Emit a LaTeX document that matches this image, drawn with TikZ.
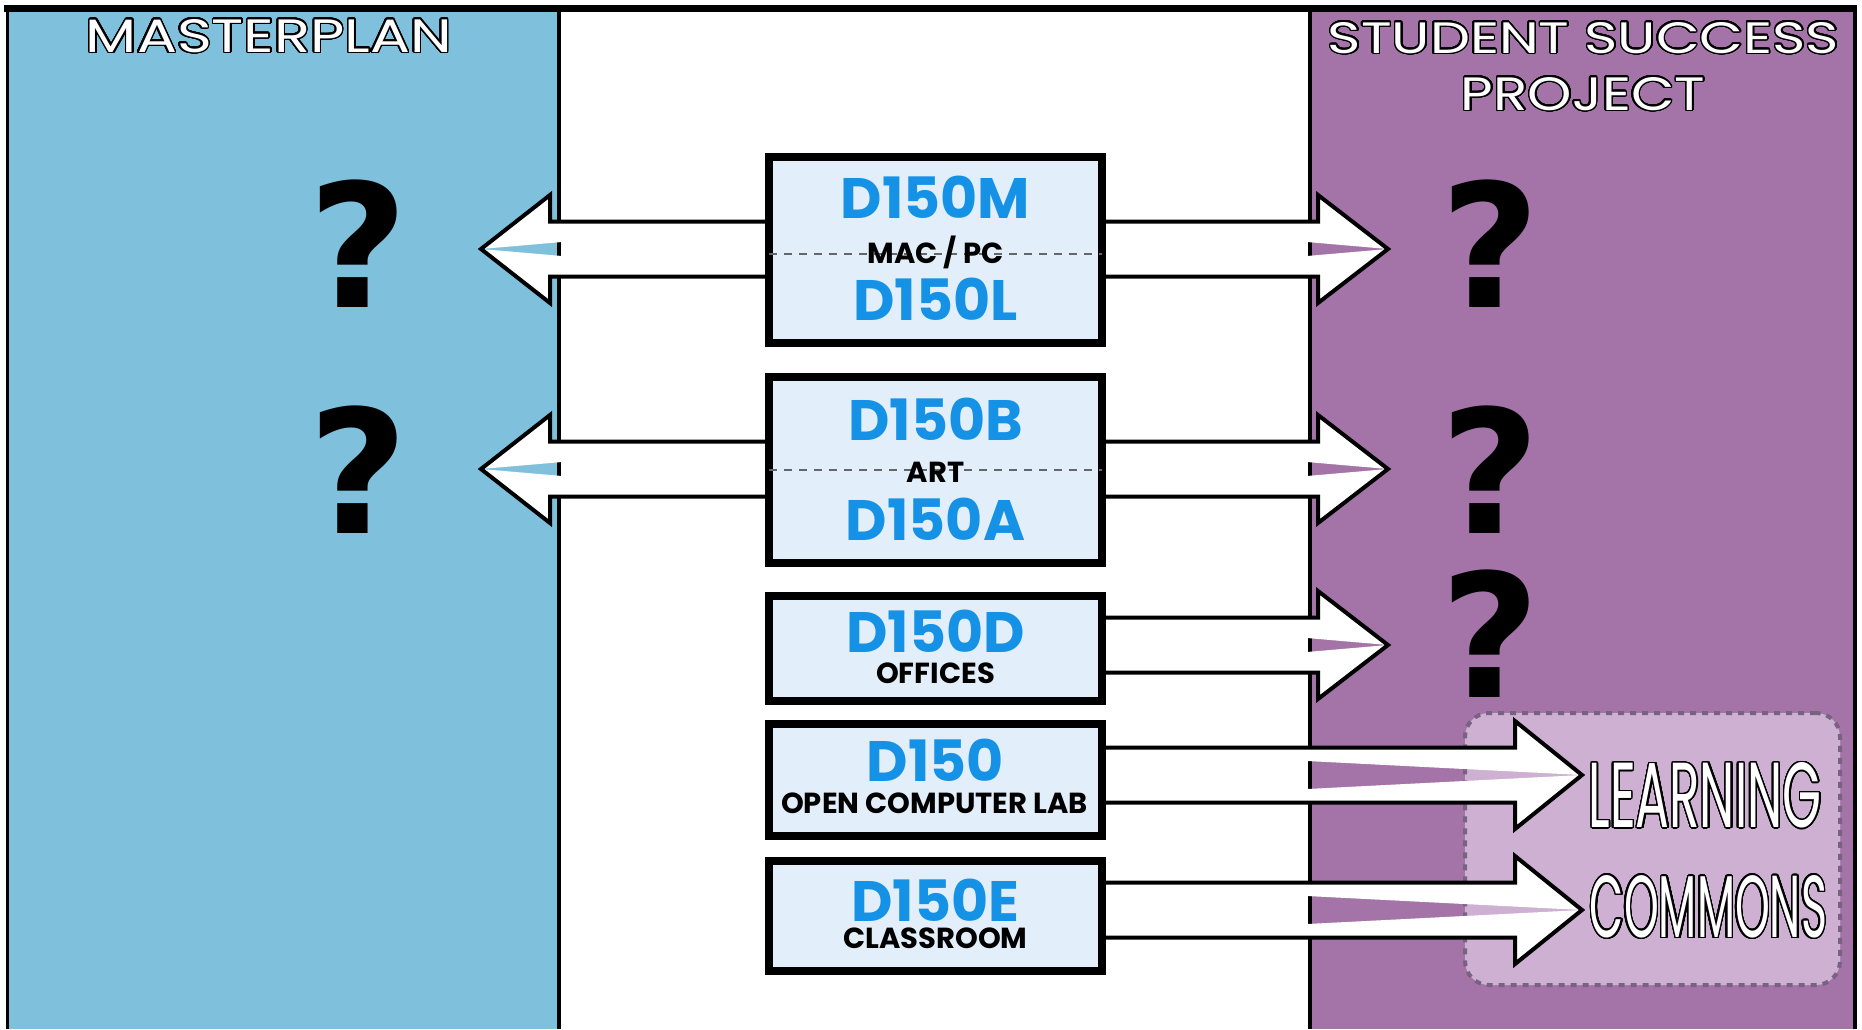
\documentclass[tikz,border=0pt]{standalone}
\usepackage{fontspec}
\setmainfont{Poppins}
\newfontfamily\qfont{DejaVu Sans}
\usepackage{contour}
\contourlength{1.5pt}
\contournumber{32}
\usetikzlibrary{positioning}
\definecolor{planblue}{HTML}{7FC1DD}
\definecolor{projpurple}{HTML}{A474A9}
\definecolor{commonsfill}{HTML}{CDB0D2}
\definecolor{commonsline}{HTML}{776380}
\definecolor{roomfill}{HTML}{E2EEF9}
\definecolor{roomblue}{HTML}{1592E6}

\tikzset{
  room/.style={draw=black, line width=8pt, fill=roomfill, minimum width=333pt, inner sep=0pt},
  roomid/.style={text=roomblue, font=\bfseries\fontsize{57}{57}\selectfont, inner sep=0pt, anchor=base},
  roomuse/.style={font=\bfseries\fontsize{29}{29}\selectfont, inner sep=0pt, anchor=base},
  qmark/.style={font=\qfont\bfseries\fontsize{172}{172}\selectfont, inner sep=0pt, anchor=base},
  halfline/.style={draw=black!60, line width=2pt, dash pattern=on 8pt off 7pt},
  outlined/.style={text=white, inner sep=0pt},
}

% white block arrow with a slit cut out near the tip
% #1 y, #2 tail x, #3 head base x, #4 tip x, #5 slit start x, #6 slit half height
\newcommand{\blockarrow}[6]{%
  \fill[white,even odd rule] (#2,#1-27.5) -- (#3,#1-27.5) -- (#3,#1-54) -- (#4,#1)
    -- (#3,#1+54) -- (#3,#1+27.5) -- (#2,#1+27.5) -- cycle
    (#5,#1-#6) -- (#4,#1) -- (#5,#1+#6) -- cycle;
  \draw[line width=4pt] (#2,#1-27.5) -- (#3,#1-27.5) -- (#3,#1-54) -- (#4,#1)
    -- (#3,#1+54) -- (#3,#1+27.5) -- (#2,#1+27.5) -- cycle;
}

\begin{document}
\begin{tikzpicture}[x=1pt,y=-1pt]
	\useasboundingbox (0,0) rectangle (1862,1029);

	% the two side panels
	\fill [planblue] (7,9) rectangle (559,1029);
	\fill [projpurple] (1310,9) rectangle (1855,1029);
	\draw [line width=4pt] (559,9) -- (559,1029);
	\draw [line width=4pt] (1310,9) -- (1310,1029);
	\draw [line width=3pt] (7.5,8) -- (7.5,1029);
	\draw [line width=4pt] (1855,8) -- (1855,1029);
	\draw [line width=7pt] (4,8.5) -- (1857,8.5);

	\node [outlined] (plan) at (269,36.5) {\contour{black}{\resizebox{366pt}{33pt}{MASTERPLAN}}};
	\node [outlined] (ssp1) at (1583.5,38.5) {\contour{black}{\resizebox{511pt}{31pt}{STUDENT SUCCESS}}};
	\node [outlined] (ssp2) at (1583,94.5) {\contour{black}{\resizebox{244pt}{33pt}{PROJECT}}};

	% learning commons area
	\node [draw=commonsline, fill=commonsfill, line width=4pt, dash pattern=on 6pt off 6pt,
		rounded corners=24pt, minimum width=375pt, minimum height=272pt] (lc) at (1652.5,849) {};

	% arrows
	\blockarrow{249}{935}{550}{481}{562}{7}
	\blockarrow{249}{935}{1318}{1388}{1307}{7}
	\blockarrow{469}{935}{550}{481}{562}{7}
	\blockarrow{469}{935}{1318}{1388}{1307}{7}
	\blockarrow{645}{935}{1318}{1388}{1307}{7}
	\blockarrow{775}{935}{1515}{1582}{1307}{14}
	\blockarrow{910}{935}{1515}{1582}{1307}{14}

	% rooms
	\node [room, minimum height=186pt] (m1) at (935.5,250) {};
	\draw [halfline] (769,254) -- (1102,254);
	\node [roomid] (d150m) at (935.5,218) {D150M};
	\node [roomuse] (macpc) at (935.5,263) {MAC / PC};
	\node [roomid] (d150l) at (935.5,320) {D150L};

	\node [room, minimum height=186pt] (m2) at (935.5,469.5) {};
	\draw [halfline] (769,470) -- (1102,470);
	\node [roomid] (d150b) at (935.5,440) {D150B};
	\node [roomuse] (art) at (935.5,482) {ART};
	\node [roomid] (d150a) at (935.5,540) {D150A};

	\node [room, minimum height=105pt] (m3) at (935.5,648.5) {};
	\node [roomid] (d150d) at (935.5,652) {D150D};
	\node [roomuse] (offices) at (935.5,683) {OFFICES};

	\node [room, minimum height=112pt] (m4) at (935.5,780) {};
	\node [roomid] (d150) at (935.5,781) {D150};
	\node [roomuse] (openlab) at (934.5,813) {OPEN COMPUTER LAB};

	\node [room, minimum height=110pt] (m5) at (935.5,916) {};
	\node [roomid] (d150e) at (935.5,921) {D150E};
	\node [roomuse] (classroom) at (935.5,948) {CLASSROOM};

	% unknowns
	\node [qmark] (ql1) at (358,307) {?};
	\node [qmark] (ql2) at (358,533) {?};
	\node [qmark] (qr1) at (1490,307) {?};
	\node [qmark] (qr2) at (1490,533) {?};
	\node [qmark] (qr3) at (1490,697) {?};

	\node [outlined] (learn) at (1705,796) {\contour{black}{\resizebox{233pt}{65pt}{LEARNING}}};
	\node [outlined] (commons) at (1708.5,907.5) {\contour{black}{\resizebox{237pt}{62pt}{COMMONS}}};
\end{tikzpicture}
\end{document}
